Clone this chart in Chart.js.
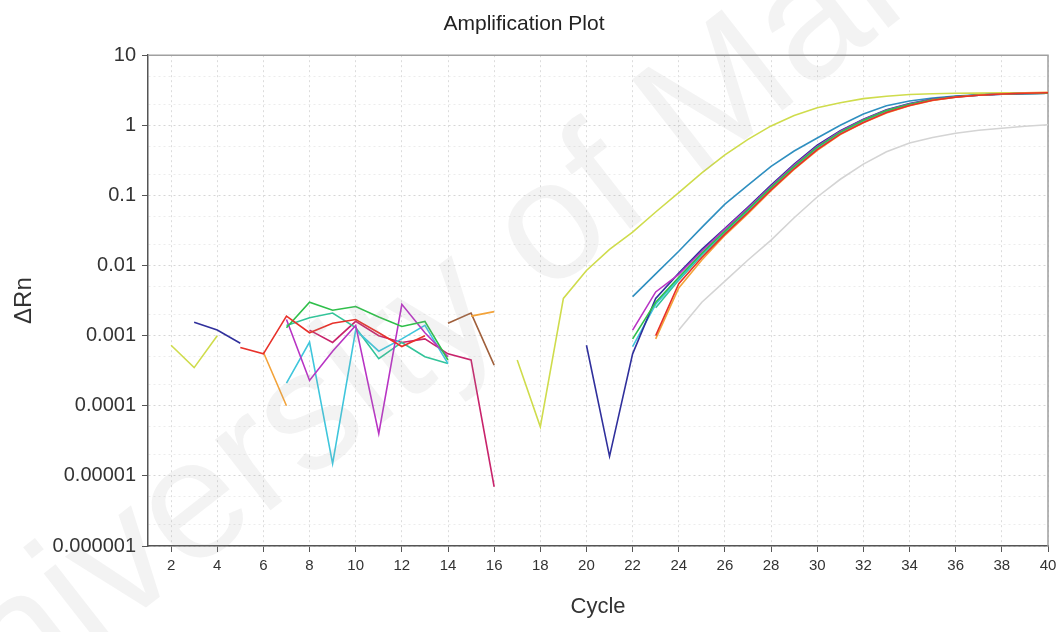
<!DOCTYPE html>
<html>
<head>
<meta charset="utf-8">
<script src="https://cdn.jsdelivr.net/npm/chart.js@4.4.1/dist/chart.umd.min.js"></script>
<style>
  html, body { margin: 0; padding: 0; background: #fff; }
</style>
</head>
<body>
<canvas id="plot" width="1063" height="632"></canvas>
<script>
const N = null;
const cycles = [1, 2, 3, 4, 5, 6, 7, 8, 9, 10, 11, 12, 13, 14, 15, 16, 17, 18, 19, 20,
                21, 22, 23, 24, 25, 26, 27, 28, 29, 30, 31, 32, 33, 34, 35, 36, 37, 38, 39, 40];
const xTicks = [2, 4, 6, 8, 10, 12, 14, 16, 18, 20, 22, 24, 26, 28, 30, 32, 34, 36, 38, 40];
const yMajor = [10, 1, 0.1, 0.01, 0.001, 0.0001, 0.00001, 0.000001];
const yLabels = ['10', '1', '0.1', '0.01', '0.001', '0.0001', '0.00001', '0.000001'];
const yMinor = [5, 2, 0.5, 0.2, 0.05, 0.02, 0.005, 0.002, 0.0005, 0.0002, 0.00005, 0.00002, 0.000005, 0.000002];

// delta Rn per cycle (null = not plotted on log axis)
const red = [
  N, N, N, N, 0.00068, 0.00055, 0.0019, 0.0011, 0.0015, 0.0017,
  0.0011, 0.0007, 0.001, N, N, N, N, N, N, N,
  N, N, 0.001, 0.0055, 0.013, 0.028, 0.057, 0.12, 0.24, 0.45,
  0.75, 1.1, 1.52, 1.92, 2.28, 2.52, 2.68, 2.8, 2.87, 2.92];
const orange = [
  N, N, N, N, N, 0.00058, 0.0001, N, N, N,
  N, N, N, N, 0.0019, 0.0022, N, N, N, N,
  N, N, 0.0009, 0.0048, 0.012, 0.027, 0.055, 0.117, 0.235, 0.44,
  0.74, 1.09, 1.5, 1.9, 2.27, 2.52, 2.7, 2.82, 2.9, 2.95];
const green = [
  N, N, N, N, N, N, 0.0013, 0.003, 0.0023, 0.0026,
  0.00185, 0.00135, 0.0016, 0.00045, N, N, N, N, N, N,
  N, 0.0009, 0.003, 0.0068, 0.015, 0.031, 0.063, 0.13, 0.26, 0.49,
  0.8, 1.18, 1.62, 2.0, 2.34, 2.56, 2.7, 2.8, 2.85, 2.88];
const magenta = [
  N, N, N, N, N, N, 0.0017, 0.00023, 0.0006, 0.0014,
  0.00004, 0.0028, 0.0011, 0.0005, N, N, N, N, N, N,
  N, 0.0012, 0.0042, 0.0075, 0.016, 0.033, 0.066, 0.135, 0.27, 0.5,
  0.82, 1.2, 1.64, 2.02, 2.35, 2.56, 2.68, 2.77, 2.84, 2.87];
const navy = [
  N, N, 0.00155, 0.0012, 0.00078, N, N, N, N, N,
  N, N, N, N, N, N, N, N, N, 0.00073,
  0.000019, 0.00055, 0.0034, 0.0078, 0.017, 0.034, 0.068, 0.14, 0.28, 0.52,
  0.84, 1.22, 1.66, 2.04, 2.37, 2.57, 2.7, 2.79, 2.85, 2.88];
const teal = [
  N, N, N, N, N, N, N, N, N, N,
  N, N, N, N, N, N, N, N, N, N,
  N, 0.0036, 0.0076, 0.016, 0.035, 0.075, 0.14, 0.26, 0.43, 0.66,
  1.0, 1.45, 1.9, 2.22, 2.45, 2.62, 2.73, 2.8, 2.85, 2.88];
const cyan = [
  N, N, N, N, N, N, 0.00021, 0.00081, 0.000015, 0.0012,
  0.0006, 0.0009, 0.0014, 0.0004, N, N, N, N, N, N,
  N, 0.0007, 0.0028, 0.0065, 0.0145, 0.03, 0.062, 0.128, 0.255, 0.48,
  0.79, 1.17, 1.6, 1.98, 2.32, 2.55, 2.69, 2.78, 2.84, 2.87];
const seaGreen = [
  N, N, N, N, N, N, 0.0014, 0.0018, 0.0021, 0.0013,
  0.00047, 0.0008, 0.0005, 0.0004, N, N, N, N, N, N,
  N, N, 0.0025, 0.0062, 0.014, 0.029, 0.06, 0.125, 0.25, 0.47,
  0.78, 1.15, 1.58, 1.96, 2.3, 2.54, 2.68, 2.77, 2.83, 2.86];
const yellowGreen = [
  N, 0.00073, 0.00035, 0.001, N, N, N, N, N, N,
  N, N, N, N, N, N, 0.00045, 0.00005, 0.0034, 0.0085,
  0.017, 0.03, 0.058, 0.11, 0.21, 0.38, 0.63, 0.98, 1.38, 1.78,
  2.1, 2.4, 2.6, 2.75, 2.82, 2.86, 2.88, 2.9, 2.9, 2.9];
const crimson = [
  N, N, N, N, N, N, N, 0.0012, 0.0008, 0.0016,
  0.001, 0.0008, 0.0009, 0.00055, 0.00045, 0.000007, N, N, N, N,
  N, N, N, N, N, N, N, N, N, N,
  N, N, N, N, N, N, N, N, N, N];
const brown = [
  N, N, N, N, N, N, N, N, N, N,
  N, N, N, 0.0015, 0.0021, 0.00038, N, N, N, N,
  N, N, N, N, N, N, N, N, N, N,
  N, N, N, N, N, N, N, N, N, N];
const gray = [
  N, N, N, N, N, N, N, N, N, N,
  N, N, N, N, N, N, N, N, N, N,
  N, N, N, 0.0012, 0.003, 0.006, 0.012, 0.023, 0.048, 0.095,
  0.17, 0.28, 0.42, 0.56, 0.67, 0.77, 0.85, 0.91, 0.97, 1.02];

const series = [
  ['red', red, '#e8312a'],
  ['orange', orange, '#f3a33a'],
  ['green', green, '#2fbf4a'],
  ['magenta', magenta, '#b834c4'],
  ['navy', navy, '#30309c'],
  ['teal', teal, '#2f8fc0'],
  ['cyan', cyan, '#3fc6dc'],
  ['seaGreen', seaGreen, '#33c49a'],
  ['yellowGreen', yellowGreen, '#cfdc4c'],
  ['crimson', crimson, '#c8246c'],
  ['brown', brown, '#a0603c'],
  ['gray', gray, '#d4d4d4']
];

const font = "'Liberation Sans', Arial, sans-serif";

// top and right edges of the plot box
const frame = {
  id: 'frame',
  beforeDatasetsDraw(chart) {
    const a = chart.chartArea, ctx = chart.ctx;
    ctx.save();
    ctx.strokeStyle = '#a0a0a0';
    ctx.lineWidth = 1.5;
    ctx.beginPath();
    ctx.moveTo(a.left, a.top);
    ctx.lineTo(a.right, a.top);
    ctx.lineTo(a.right, a.bottom);
    ctx.stroke();
    ctx.restore();
  }
};

// faint diagonal watermark
const watermark = {
  id: 'watermark',
  afterDatasetsDraw(chart) {
    const ctx = chart.ctx;
    ctx.save();
    ctx.translate(493, 277);
    ctx.rotate(-38 * Math.PI / 180);
    ctx.font = '170px ' + font;
    ctx.fillStyle = 'rgba(160,160,160,0.12)';
    ctx.textAlign = 'center';
    ctx.textBaseline = 'middle';
    ctx.fillText('University of Malaya', 0, 0);
    ctx.restore();
  }
};

new Chart(document.getElementById('plot'), {
  type: 'line',
  data: {
    datasets: series.map(function(s) {
      return {
        label: s[0],
        data: cycles.map(function(c, i) { return {x: c, y: s[1][i]}; }),
        borderColor: s[2],
        borderWidth: 1.6,
        pointRadius: 0,
        tension: 0,
        spanGaps: false,
        fill: false
      };
    })
  },
  options: {
    responsive: false,
    animation: false,
    layout: { padding: { left: 0, right: 15, top: 0, bottom: 0 } },
    plugins: {
      legend: { display: false },
      tooltip: { enabled: false },
      title: {
        display: true,
        text: 'Amplification Plot',
        color: '#222',
        font: { family: font, size: 21, weight: 'normal' },
        padding: { top: 12, bottom: 18 }
      }
    },
    scales: {
      x: {
        type: 'linear',
        min: 1,
        max: 40,
        afterBuildTicks: function(scale) {
          scale.ticks = xTicks.map(function(v) { return {value: v}; });
        },
        afterFit: function(scale) { scale.height = 86; },
        ticks: {
          autoSkip: false,
          maxRotation: 0,
          padding: 5,
          color: '#333',
          font: { family: "'Liberation Sans Narrow', " + font, size: 15 }
        },
        grid: {
          color: '#dcdcdc',
          lineWidth: 1,
          tickLength: 6,
          tickColor: '#555'
        },
        border: { color: '#555', width: 1.5, dash: [2, 3] },
        title: {
          display: true,
          text: 'Cycle',
          color: '#333',
          font: { family: font, size: 22 },
          padding: { top: 0, bottom: 12 }
        }
      },
      y: {
        type: 'logarithmic',
        min: 0.000001,
        max: 10,
        afterBuildTicks: function(scale) {
          scale.ticks = yMajor.concat(yMinor).sort(function(a, b) { return a - b; })
            .map(function(v) { return {value: v, major: yMajor.indexOf(v) >= 0}; });
        },
        afterFit: function(scale) { scale.width = 148; },
        ticks: {
          autoSkip: false,
          padding: 6,
          color: '#333',
          font: { family: font, size: 20 },
          callback: function(value) {
            const k = yMajor.indexOf(value);
            return k >= 0 ? yLabels[k] : '';
          }
        },
        grid: {
          color: function(ctx) { return ctx.tick && ctx.tick.major ? '#d6d6d6' : '#ececec'; },
          tickColor: function(ctx) { return ctx.tick && ctx.tick.major ? '#555' : 'rgba(0,0,0,0)'; },
          tickLength: 6
        },
        border: { color: '#555', width: 1.5, dash: [2, 3] },
        title: {
          display: true,
          text: 'ΔRn',
          color: '#333',
          font: { family: font, size: 24 },
          padding: { top: 10, bottom: 0 }
        }
      }
    }
  },
  plugins: [frame, watermark]
});
</script>
</body>
</html>
